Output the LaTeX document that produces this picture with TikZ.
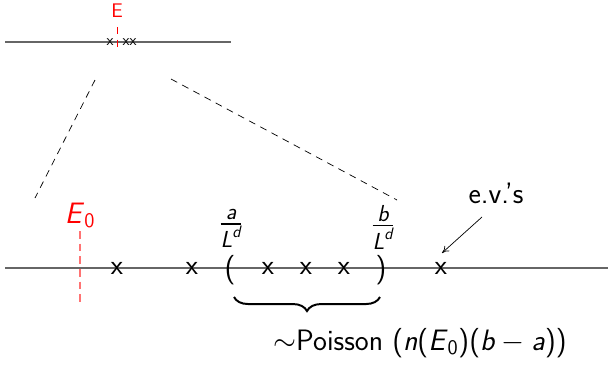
\RequirePackage{fix-cm}
\documentclass[tikz,border=0pt]{standalone}
\usepackage{amsmath}
\usetikzlibrary{arrows.meta,decorations.pathreplacing}
\newcommand{\mv}[1]{\textit{#1}}

\begin{document}
\begin{tikzpicture}[
    x=0.025cm, y=-0.025cm,
    axis/.style={draw=black!60, line width=0.9pt},
    ev/.style={inner sep=0pt, font=\fontsize{20}{24}\sffamily},
    evsmall/.style={inner sep=0pt, font=\fontsize{11}{13}\sffamily},
    lbl/.style={inner sep=0pt, font=\fontsize{21}{25}\sffamily},
    fracl/.style={inner sep=0pt, font=\fontsize{23.5}{28}\sffamily},
    zoomline/.style={line width=0.5pt, dash pattern=on 5pt off 4pt},
    energy/.style={red!55, line width=0.8pt, dash pattern=on 5.5pt off 3.5pt},
    >={To[length=5pt, width=5pt]}
]
    \useasboundingbox (0,0) rectangle (610,364);

    % zoomed-out axis (top)
    \coordinate (TL) at (5,42);
    \coordinate (TR) at (231,42);
    \draw[axis] (TL) -- (TR);
    \node[evsmall] (t1) at (110,42) {x};
    \node[evsmall] (t2) at (126,42) {x};
    \node[evsmall] (t3) at (133,42) {x};
    \coordinate (Etop) at (117,27);
    \coordinate (Ebot) at (117,51);
    \draw[red, line width=0.7pt, dash pattern=on 5pt off 4pt] (Etop) -- (Ebot);
    \node[inner sep=0pt, font=\fontsize{14}{16}\sffamily, text=red] (E) at (117,11) {E};

    % zoom lines
    \coordinate (Z1a) at (95,80);
    \coordinate (Z1b) at (35,198);
    \coordinate (Z2a) at (171,79);
    \coordinate (Z2b) at (397,200);
    \draw[zoomline] (Z1a) -- (Z1b);
    \draw[zoomline] (Z2a) -- (Z2b);

    % zoomed-in axis (bottom)
    \coordinate (BL) at (5,268);
    \coordinate (BR) at (608,268);
    \draw[axis] (BL) -- (BR);

    % E_0
    \node[lbl, text=red, anchor=base] (E0) at (80,223) {\mv{E}\textsubscript{0}};
    \coordinate (E0top) at (80,231);
    \coordinate (E0bot) at (80,303);
    \draw[energy] (E0top) -- (E0bot);

    % eigenvalues
    \foreach \n/\xx in {1/117, 2/192, 3/268, 4/306, 5/344, 6/441}
        \node[ev] (x\n) at (\xx,268) {x};

    % window [a,b]
    \node[lbl] (lpar) at (230,270) {(};
    \node[lbl] (rpar) at (381,270) {)};
    \node[fracl] (fa) at (231,228) {$\frac{\mv{a}}{\mv{L}^{\mv{d}}}$};
    \node[fracl] (fb) at (383,227) {$\frac{\mv{b}}{\mv{L}^{\mv{d}}}$};

    % brace and count
    \coordinate (brL) at (234,297);
    \coordinate (brR) at (380,297);
    \draw[line width=1.4pt, decorate, decoration={brace, mirror, amplitude=10pt}] (brL) -- (brR);
    \node[lbl, anchor=base] (pois) at (420,350)
        {$\sim$Poisson (\mv{n}(\mv{E}\textsubscript{0})(\mv{b}\kern0.22em$-$\kern0.22em\mv{a}))};

    % e.v.'s label
    \node[lbl, anchor=base] (evs) at (496,203) {e.v.'s};
    \coordinate (evtail) at (482,217);
    \coordinate (evtip) at (442,253);
    \draw[->, line width=0.5pt] (evtail) -- (evtip);
\end{tikzpicture}
\end{document}
